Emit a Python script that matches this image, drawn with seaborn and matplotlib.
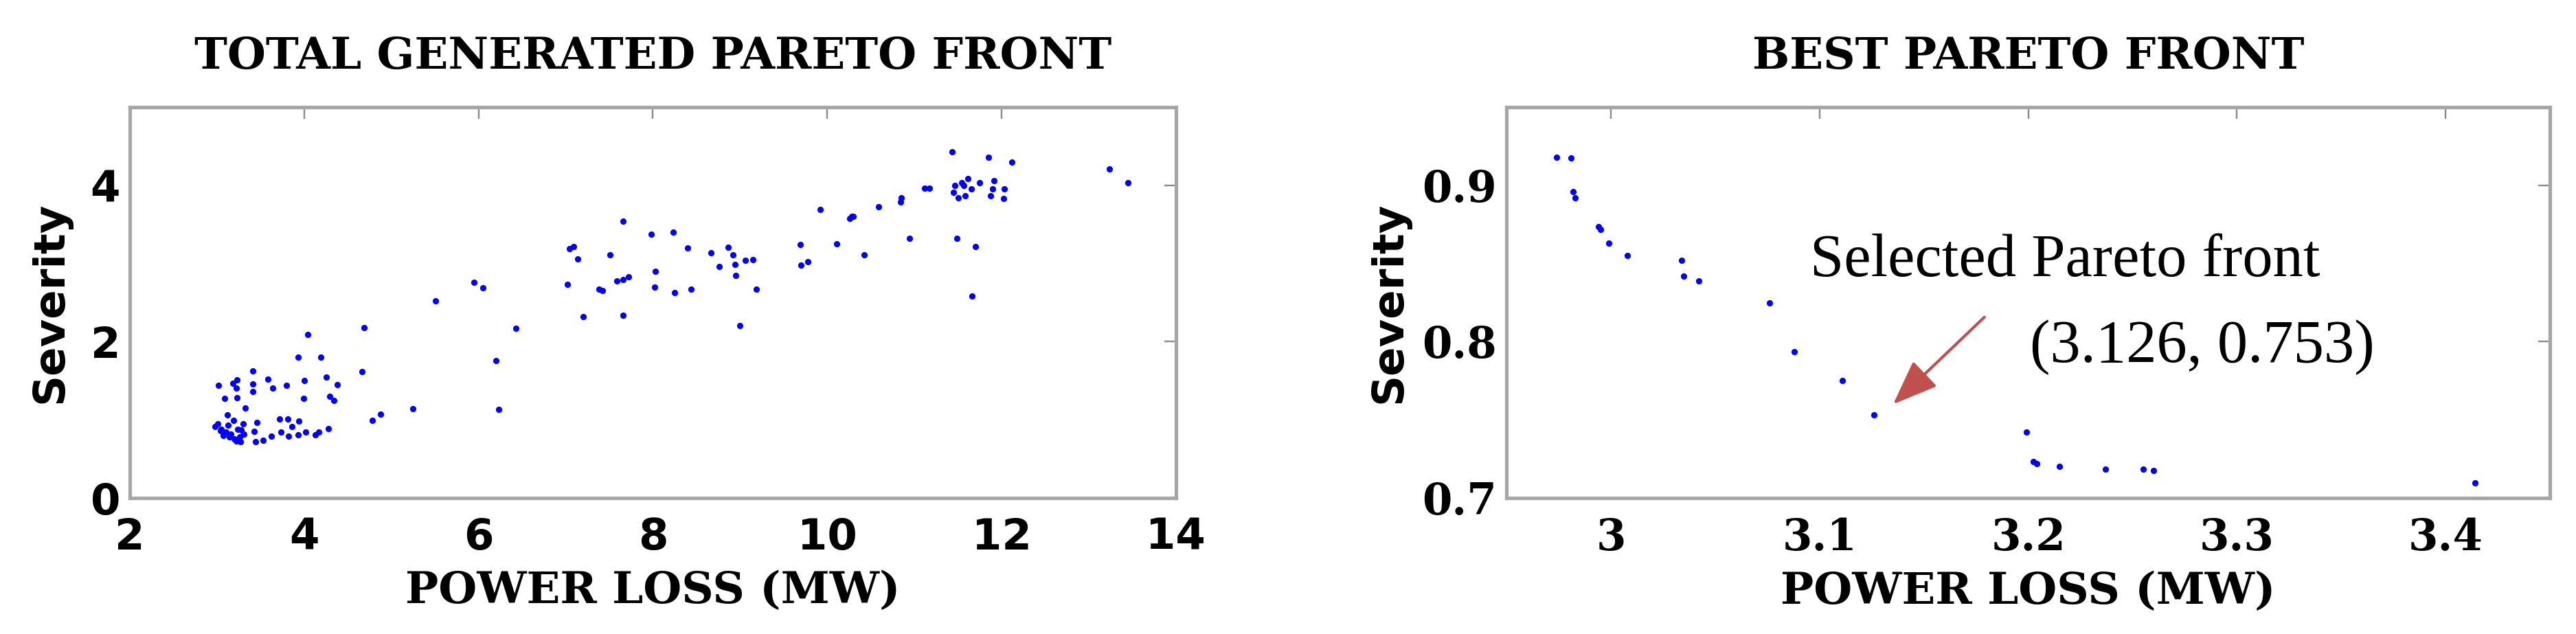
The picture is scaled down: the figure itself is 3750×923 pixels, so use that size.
import matplotlib
matplotlib.use("Agg")
import matplotlib.pyplot as plt
import seaborn as sns
import pandas as pd

# total generated pareto front (power loss MW, severity)
total_loss = [
    4.69, 4.04, 6.43, 3.93, 4.19, 6.20, 3.41, 4.66, 4.25, 3.58, 4.00, 3.02, 3.18,
    3.23, 3.41, 3.64, 3.80, 4.38, 3.22, 3.41, 3.09, 3.23, 3.99, 4.29, 4.34, 3.32,
    5.25, 6.23, 4.88, 4.78, 3.12, 3.19, 3.01, 2.98, 3.05, 3.10, 3.14, 3.22, 3.27,
    3.30, 3.28, 3.31, 3.46, 3.43, 3.44, 3.53, 3.62, 3.72, 3.81, 3.73, 3.82, 3.86,
    3.94, 3.93, 4.02, 4.13, 4.17, 4.28, 3.24, 3.16, 3.04, 3.07, 3.20, 3.13, 3.26,
    7.66, 7.98, 8.23, 7.09, 7.04, 7.14, 7.51, 8.40, 8.67, 8.86, 8.92, 8.76, 8.94,
    9.06, 9.15, 8.95, 9.19, 8.03, 8.02, 8.25, 8.44, 7.02, 7.38, 7.42, 7.59, 7.66,
    7.72, 7.20, 7.66, 9.00, 9.69, 10.11, 9.70, 9.78, 9.92, 10.28, 5.51, 5.95, 6.05,
    11.43, 11.85, 12.12, 13.24, 13.45, 10.30, 10.26, 10.59, 10.85, 10.84, 11.12,
    11.17, 10.42, 10.94, 11.49, 11.70, 11.66, 11.46, 11.45, 11.50, 11.57, 11.58,
    11.61, 11.65, 11.75, 11.91, 11.90, 11.87, 12.03, 12.02, 11.54,
]
total_sev = [
    2.18, 2.09, 2.17, 1.80, 1.80, 1.76, 1.63, 1.62, 1.55, 1.52, 1.50, 1.44, 1.47,
    1.51, 1.46, 1.41, 1.44, 1.45, 1.41, 1.36, 1.27, 1.28, 1.27, 1.30, 1.25, 1.15,
    1.14, 1.13, 1.07, 0.99, 1.06, 0.99, 0.95, 0.91, 0.88, 0.84, 0.78, 0.73, 0.72,
    0.95, 0.87, 0.82, 0.97, 0.85, 0.72, 0.74, 0.79, 1.01, 1.01, 0.84, 0.79, 0.91,
    0.98, 0.81, 0.84, 0.81, 0.84, 0.89, 0.88, 0.82, 0.86, 0.80, 0.76, 0.93, 0.78,
    3.54, 3.37, 3.40, 3.22, 3.19, 3.06, 3.11, 3.20, 3.14, 3.21, 3.11, 2.96, 2.99,
    3.04, 3.05, 2.85, 2.67, 2.90, 2.70, 2.63, 2.67, 2.73, 2.67, 2.65, 2.78, 2.79,
    2.83, 2.32, 2.34, 2.21, 3.24, 3.25, 2.98, 3.02, 3.69, 3.60, 2.52, 2.76, 2.69,
    4.43, 4.36, 4.30, 4.21, 4.03, 3.60, 3.58, 3.73, 3.84, 3.79, 3.96,
    3.96, 3.11, 3.32, 3.32, 3.22, 2.58, 4.00, 3.91, 3.84, 4.00, 3.87,
    4.09, 3.95, 4.03, 4.06, 3.95, 3.87, 3.95, 3.83, 4.03,
]

# best pareto front
best_loss = [2.974, 2.981, 2.982, 2.983, 2.994, 2.995, 2.999, 3.008, 3.034, 3.035,
             3.042, 3.076, 3.088, 3.111, 3.126, 3.199, 3.2025, 3.204, 3.215, 3.237,
             3.255, 3.260, 3.414]
best_sev = [0.918, 0.9175, 0.896, 0.892, 0.8735, 0.872, 0.863, 0.855, 0.852, 0.842,
            0.839, 0.825, 0.7937, 0.775, 0.753, 0.742, 0.7235, 0.722, 0.720, 0.7186,
            0.7186, 0.7176, 0.7098]

selected = (3.126, 0.753)

total_df = pd.DataFrame({"loss": total_loss, "severity": total_sev})
best_df = pd.DataFrame({"loss": best_loss, "severity": best_sev})

sns.set_style("white")
plt.rcParams["font.family"] = ["DejaVu Sans"]
plt.rcParams["text.color"] = "black"
plt.rcParams["axes.labelcolor"] = "black"
plt.rcParams["xtick.labelcolor"] = "black"
plt.rcParams["ytick.labelcolor"] = "black"

fig = plt.figure(figsize=(15, 3.692), dpi=250)
ax1 = fig.add_axes([0.0504, 0.2145, 0.4061, 0.6165])
ax2 = fig.add_axes([0.5848, 0.2145, 0.4051, 0.6165])

frame = "#a6a6a6"
serif_bold = dict(family="DejaVu Serif", weight="bold", size=18.5)
sans_bold = dict(family="DejaVu Sans", weight="bold", size=18)

for ax, df in [(ax1, total_df), (ax2, best_df)]:
    sns.scatterplot(data=df, x="loss", y="severity", ax=ax, color="#0000ff",
                    s=7, linewidth=0, marker="o")
    for sp in ax.spines.values():
        sp.set_color(frame)
        sp.set_linewidth(1.5)
    ax.tick_params(direction="in", length=5, width=0.7, color="#8c8c8c",
                   top=True, right=True, pad=8)
    ax.set_xlabel("POWER LOSS (MW)", labelpad=5, **serif_bold)
    ax.set_ylabel("Severity", **sans_bold)

ax1.set_xlim(2, 14)
ax1.set_ylim(0, 5)
ax1.set_xticks([2, 4, 6, 8, 10, 12, 14])
ax1.set_yticks([0, 2, 4])
ax1.yaxis.labelpad = 8
ax1.tick_params(axis="y", pad=4)
for lab in ax1.get_xticklabels() + ax1.get_yticklabels():
    lab.set_fontfamily("DejaVu Sans")
    lab.set_fontweight("bold")
    lab.set_fontsize(18)
ax1.set_title("TOTAL GENERATED PARETO FRONT", pad=16, **serif_bold)

ax2.set_xlim(2.95, 3.45)
ax2.set_ylim(0.7, 0.95)
ax2.set_xticks([3, 3.1, 3.2, 3.3, 3.4])
ax2.set_xticklabels(["3", "3.1", "3.2", "3.3", "3.4"])
ax2.set_yticks([0.7, 0.8, 0.9])
ax2.set_yticklabels(["0.7", "0.8", "0.9"])
ax2.yaxis.labelpad = 5
ax2.tick_params(axis="y", pad=4)
for lab in ax2.get_xticklabels() + ax2.get_yticklabels():
    lab.set_fontfamily("DejaVu Serif")
    lab.set_fontweight("bold")
    lab.set_fontsize(18)
ax2.set_title("BEST PARETO FRONT", pad=16, **serif_bold)

# annotation for the selected solution
ax2.annotate("", xy=(3.1353, 0.760), xytext=(3.179, 0.8157),
             arrowprops=dict(arrowstyle="-|>,head_length=0.9,head_width=0.35",
                             mutation_scale=18, color="#c0504d", lw=1.2,
                             shrinkA=0, shrinkB=0))
ax2.text(3.0955, 0.842, "Selected Pareto front", family="Liberation Serif",
         fontsize=25.5, ha="left", va="baseline")
ax2.text(3.2008, 0.787, "(%.3f, %.3f)" % selected, family="Liberation Serif",
         fontsize=25.5, ha="left", va="baseline")

fig.savefig("out.png", dpi=250)
